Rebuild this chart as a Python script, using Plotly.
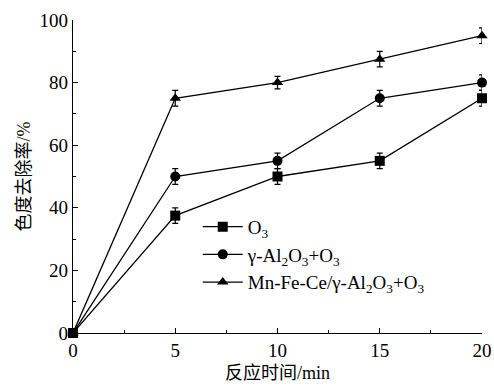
import plotly.graph_objects as go

time_min = [0, 5, 10, 15, 20]
o3 = [0, 37.5, 50, 55, 75]
al2o3_o3 = [0, 50, 55, 75, 80]
mnfece_o3 = [0, 75, 80, 87.5, 95]
err_o3 = [0, 2.5, 2.5, 2.5, 2.5]
err_al = [0, 2.5, 2.5, 2.5, 2.5]
err_mn = [0, 2.5, 2, 2.5, 2.5]

names = ["O<sub>3</sub>", "γ-Al<sub>2</sub>O<sub>3</sub>+O<sub>3</sub>",
         "Mn-Fe-Ce/γ-Al<sub>2</sub>O<sub>3</sub>+O<sub>3</sub>"]
symbols = ["square", "circle", "triangle-up"]
series = [o3, al2o3_o3, mnfece_o3]
errs = [err_o3, err_al, err_mn]

fig = go.Figure()
for nm, sym, ys, er in zip(names, symbols, series, errs):
    fig.add_trace(go.Scatter(
        x=time_min, y=ys, name=nm, mode="lines+markers",
        line=dict(color="black", width=1.3),
        marker=dict(symbol=sym, size=10, color="black"),
        error_y=dict(type="data", array=er, color="black", thickness=1.2, width=3),
        cliponaxis=False,
    ))

font_serif = "Liberation Serif, Times New Roman, serif"
cjk = "Liberation Serif, Noto Sans CJK SC, serif"
fig.update_layout(
    width=494, height=389,
    margin=dict(l=73, r=12, t=20, b=56, autoexpand=False),
    paper_bgcolor="white", plot_bgcolor="white",
    font=dict(family=font_serif, size=19, color="black"),
    showlegend=True,
    legend=dict(x=0.305, y=0.40, xanchor="left", yanchor="top",
                bgcolor="rgba(0,0,0,0)", font=dict(family=font_serif, size=19),
                tracegroupgap=0, itemwidth=40),
    xaxis=dict(range=[0, 20], tickvals=[0, 5, 10, 15, 20], automargin=False,
               ticks="inside", ticklen=5, tickwidth=1, tickcolor="black",
               minor=dict(tickvals=[2.5, 7.5, 12.5, 17.5], ticks="inside", ticklen=3, tickcolor="black"),
               showline=True, linecolor="black", linewidth=1.3, showgrid=False, zeroline=False,
               title=dict(text="反应时间/min", font=dict(family=cjk, size=18), standoff=6),
               tickfont=dict(family=font_serif, size=19)),
    yaxis=dict(range=[0, 100], tickvals=[0, 20, 40, 60, 80, 100], automargin=False,
               ticks="inside", ticklen=5, tickwidth=1, tickcolor="black",
               minor=dict(tickvals=[10, 30, 50, 70, 90], ticks="inside", ticklen=3, tickcolor="black"),
               showline=True, linecolor="black", linewidth=1.3, showgrid=False, zeroline=False,
               title=dict(text="色度去除率/%", font=dict(family=cjk, size=18), standoff=4),
               tickfont=dict(family=font_serif, size=19)),
)
fig.write_html("out.html", config={"displayModeBar": False},
               post_script="document.body.style.margin='0';document.body.style.padding='0';document.body.style.overflow='hidden';")
